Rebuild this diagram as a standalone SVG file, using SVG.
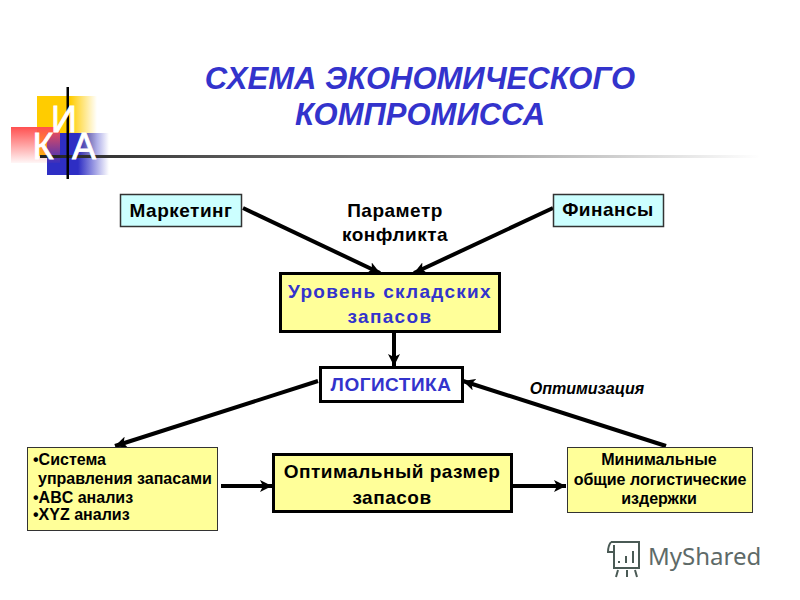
<svg xmlns="http://www.w3.org/2000/svg" width="800" height="600" viewBox="0 0 800 600">
<style>
text{font-family:"Liberation Sans",Arial,sans-serif;font-weight:bold;text-anchor:middle}
.k{fill:#000}.b{fill:#3333cc}
.c{stroke:#000;stroke-width:4;fill:none;marker-end:url(#a)}
.y{fill:#ffff99;stroke:#000;stroke-width:3}
.t{fill:#ccffff;stroke:#333;stroke-width:1.5}
.f16{font-size:19px;letter-spacing:.5px}.f14{font-size:16px}
.l{text-anchor:start;font-size:16px}
.logo{font-family:"Liberation Sans",Arial,sans-serif;font-size:36px;fill:#fff;stroke:#fff;stroke-width:.8}
</style>
<defs>
<marker id="a" markerUnits="userSpaceOnUse" markerWidth="14" markerHeight="12" refX="12" refY="6" orient="auto"><path d="M0 0L12 6L0 12L3 6Z" fill="#000"/></marker>
<linearGradient id="gy"><stop offset="0.55" stop-color="#ffcc00"/><stop offset="1" stop-color="#ffcc00" stop-opacity="0"/></linearGradient>
<linearGradient id="gr2" x1="0" y1="0" x2="0" y2="1"><stop offset="0" stop-color="#ff5050"/><stop offset="1" stop-color="#ff5050" stop-opacity=".05"/></linearGradient>
<linearGradient id="gb"><stop offset="0.5" stop-color="#2e2ec4"/><stop offset="1" stop-color="#2e2ec4" stop-opacity="0"/></linearGradient>
<linearGradient id="gl"><stop offset="0" stop-color="#222"/><stop offset="0.5" stop-color="#888"/><stop offset="1" stop-color="#fff"/></linearGradient>
</defs>
<g id="title"><text class="b" x="420" y="89" font-size="31" font-style="italic">СХЕМА ЭКОНОМИЧЕСКОГО</text><text class="b" x="420" y="125" font-size="31" font-style="italic">КОМПРОМИССА</text></g>
<g id="logo">
<rect x="37" y="96" width="60" height="60" fill="url(#gy)"/>
<rect x="47" y="133" width="62" height="42" fill="url(#gb)"/>
<rect x="11" y="127" width="49" height="36" fill="url(#gr2)"/>
<rect x="40" y="155" width="720" height="3" fill="url(#gl)"/>
<rect x="66.500" y="87" width="2.500" height="92" fill="#000"/>
<text class="logo" x="64" y="132" style="font-weight:normal">И</text>
<text class="logo" x="43" y="159" style="font-weight:normal">К</text>
<text class="logo" x="84" y="159" style="font-weight:normal">А</text>
</g>
<g id="connectors">
<line class="c" x1="243" y1="208" x2="380" y2="273"/>
<line class="c" x1="553" y1="208" x2="414" y2="273"/>
<line class="c" x1="394" y1="333" x2="394" y2="366"/>
<line class="c" x1="318" y1="381" x2="115" y2="446"/>
<line class="c" x1="666" y1="446" x2="463" y2="381"/>
<line class="c" x1="221" y1="486" x2="272" y2="486"/>
<line class="c" x1="513" y1="486" x2="566" y2="486"/>
</g>
<g id="marketing"><rect class="t" x="120.500" y="194.500" width="121" height="32"/><text class="k f16" x="181" y="217">Маркетинг</text></g>
<g id="finance"><rect class="t" x="553.500" y="194.500" width="110" height="32"/><text class="k f16" x="608" y="216">Финансы</text></g>
<g id="conflict"><text class="k f16" x="395" y="217">Параметр</text><text class="k f16" x="395" y="241">конфликта</text></g>
<g id="stock"><rect class="y" x="280.500" y="273.500" width="219" height="58"/><text class="b f16" x="390" y="298" style="letter-spacing:1.300px">Уровень складских</text><text class="b f16" x="390" y="323" style="letter-spacing:1.300px">запасов</text></g>
<g id="logistics"><rect x="320.500" y="367.500" width="142" height="34" fill="#fff" stroke="#000" stroke-width="3"/><text class="b f16" x="391" y="391">ЛОГИСТИКА</text></g>
<g id="optimization"><text class="k f14" x="587" y="394" font-style="italic">Оптимизация</text></g>
<g id="system"><rect x="27.500" y="447.500" width="190" height="83" fill="#ffff99" stroke="#333" stroke-width="1"/>
<text class="k l" x="33" y="465">•Система</text><text class="k l" x="38" y="484">управления запасами</text><text class="k l" x="33" y="503">•ABC анализ</text><text class="k l" x="33" y="520">•XYZ анализ</text></g>
<g id="optimal"><rect class="y" x="273.500" y="454.500" width="238" height="57"/><text class="k f16" x="392" y="478">Оптимальный размер</text><text class="k f16" x="392" y="504">запасов</text></g>
<g id="costs"><rect x="567.500" y="447.500" width="185" height="65" fill="#ffff99" stroke="#333" stroke-width="1"/>
<text class="k f14" x="659" y="465">Минимальные</text><text class="k f14" x="660" y="485">общие логистические</text><text class="k f14" x="659" y="504">издержки</text></g>
<g id="watermark" fill="none" stroke="#4a5a55" stroke-width="2">
<path d="M611 542H639V568H614V545M611 542Q608 546 608 552H614M639 542H613"/>
<path d="M618 570L616 577M627 570V577M635 570L637 577M619 563V561M626 563V556M633 563V551"/>
<text x="648" y="565" style="font-family:'Noto Sans',sans-serif;font-weight:normal;text-anchor:start" font-size="24" fill="#5e6a68" stroke="none">MyShared</text>
</g>
</svg>
